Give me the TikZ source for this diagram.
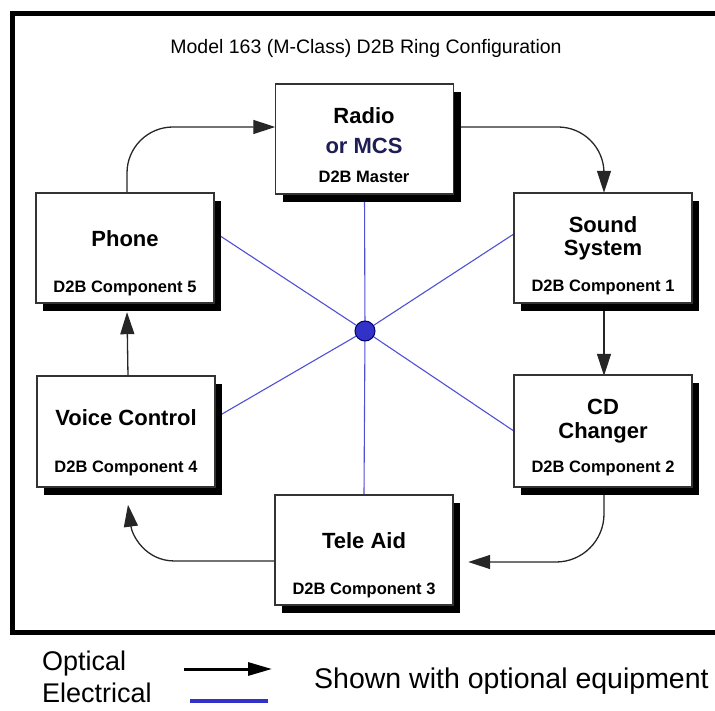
\documentclass[tikz,border=0pt]{standalone}
\usepackage{fontspec}
\setmainfont{Liberation Sans}
\usetikzlibrary{arrows.meta,shadows,calc}

\definecolor{wireblue}{RGB}{80,80,215}
\definecolor{hubblue}{RGB}{50,50,200}
\definecolor{mcsnavy}{RGB}{30,30,85}

\begin{document}
\begin{tikzpicture}[x=1pt,y=-1pt,
  unitbox/.style={rectangle, draw=black!80, line width=1.2pt, fill=white,
    minimum width=178pt, minimum height=110pt, inner sep=0pt,
    drop shadow={fill=black, opacity=1, shadow xshift=7pt, shadow yshift=-8pt}},
  mainlabel/.style={inner sep=0pt, text height=.72em, text depth=0pt,
    font=\fontsize{22}{24}\selectfont\bfseries},
  sublabel/.style={inner sep=0pt, text height=.72em, text depth=0pt,
    font=\fontsize{16.5}{18}\selectfont\bfseries},
  legendtext/.style={inner sep=0pt, text height=.72em, text depth=0pt, anchor=west,
    font=\fontsize{27}{29}\selectfont},
  optical/.style={draw=black!85, line width=1.3pt,
    -{Triangle[length=22pt,width=14pt]}},
  electrical/.style={draw=wireblue, line width=1.1pt},
  hub/.style={circle, fill=hubblue, draw=black!60!blue, line width=1pt,
    minimum size=20pt, inner sep=0pt}
]
\useasboundingbox (0,0) rectangle (715,711);

% outer frame (its right side runs past the page edge)
\draw[line width=5pt] (12,14) rectangle (740,632);

% title
\node[inner sep=0pt, text height=.72em, text depth=0pt,
      font=\fontsize{19.5}{22}\selectfont] (title) at (366,50)
  {Model 163 (M-Class) D2B Ring Configuration};

% hub position and the units around it
\coordinate (hubc) at (365,331);
\path
  (364.5,139) coordinate (radioc)
  (125,248)   coordinate (phonec)
  (603,248)   coordinate (soundc)
  (126,431.5) coordinate (voicec)
  (603,431)   coordinate (cdc)
  (364,550)   coordinate (telec);

% boxes are placed first as bare shapes so their anchors exist
\begin{scope}[overlay]
\foreach \n in {radio,phone,sound,voice,cd,tele}
  \path (\n c) node[rectangle, minimum width=178pt, minimum height=110pt, inner sep=0pt] (\n) {};
\end{scope}

% electrical star wiring, behind the boxes
\draw[electrical] (hubc) -- (radio.south);
\draw[electrical] (hubc) -- (tele.north);
\draw[electrical] (hubc) -- ([yshift=16pt]phone.east);
\draw[electrical] (hubc) -- ([yshift=14pt]sound.west);
\draw[electrical] (hubc) -- ([yshift=13.5pt]voice.east);
\draw[electrical] (hubc) -- (cd.west);

% optical ring
\draw[optical, rounded corners=46pt]
  ([xshift=2pt]phone.north) |- ([yshift=12pt]radio.west);
\draw[optical, rounded corners=46pt]
  ([yshift=12pt]radio.east) -| ([xshift=1pt]sound.north);
\draw[optical]
  ([xshift=1pt]sound.south) -- ([xshift=1pt]cd.north);
\draw[optical, rounded corners=48pt]
  ([xshift=1pt]cd.south) |- ([xshift=15pt,yshift=-12pt]tele.east);
\draw[optical]
  ([yshift=-11pt]tele.west) -- ++(-100,0)
  .. controls +(-30,0) and +(4,30) .. ([xshift=2pt,yshift=-18pt]voice.south);
\draw[optical]
  ([xshift=2pt]voice.north) -- ([xshift=2pt,yshift=-9pt]phone.south);

% the units
\node[unitbox] (radiobox) at (radioc) {};
\node[unitbox] (phonebox) at (phonec) {};
\node[unitbox] (soundbox) at (soundc) {};
\node[unitbox, minimum height=111pt] (voicebox) at (voicec) {};
\node[unitbox, minimum height=112pt] (cdbox) at (cdc) {};
\node[unitbox] (telebox) at (telec) {};

% hub
\node[hub] (hub) at (hubc) {};

% unit labels
\node[mainlabel] (radioA) at (364,120) {Radio};
\node[mainlabel, text=mcsnavy] (radioB) at (364,150) {or MCS};
\node[sublabel] (radioC) at (364,179) {D2B Master};

\node[mainlabel] (phoneA) at (125,243) {Phone};
\node[sublabel] (phoneB) at (125,289) {D2B Component 5};

\node[mainlabel] (soundA) at (603,229) {Sound};
\node[mainlabel] (soundB) at (603,252) {System};
\node[sublabel] (soundC) at (603,288) {D2B Component 1};

\node[mainlabel] (voiceA) at (126,422) {Voice Control};
\node[sublabel] (voiceB) at (126,469) {D2B Component 4};

\node[mainlabel] (cdA) at (603,411) {CD};
\node[mainlabel] (cdB) at (603,435) {Changer};
\node[sublabel] (cdC) at (603,469) {D2B Component 2};

\node[mainlabel] (teleA) at (364,545) {Tele Aid};
\node[sublabel] (teleB) at (364,591) {D2B Component 3};

% legend
\node[legendtext] (legopt) at (42,667) {Optical};
\node[legendtext] (legele) at (42,699) {Electrical};
\node[legendtext, font=\fontsize{28.5}{30}\selectfont] (legnote) at (314,685)
  {Shown with optional equipment};
\coordinate (optA) at (184,669);
\coordinate (optB) at (272,669);
\coordinate (eleA) at (190,701);
\coordinate (eleB) at (268,701);
\draw[line width=3pt, -{Triangle[length=24pt,width=13pt]}] (optA) -- (optB);
\draw[draw=hubblue, line width=4pt] (eleA) -- (eleB);
\end{tikzpicture}
\end{document}
